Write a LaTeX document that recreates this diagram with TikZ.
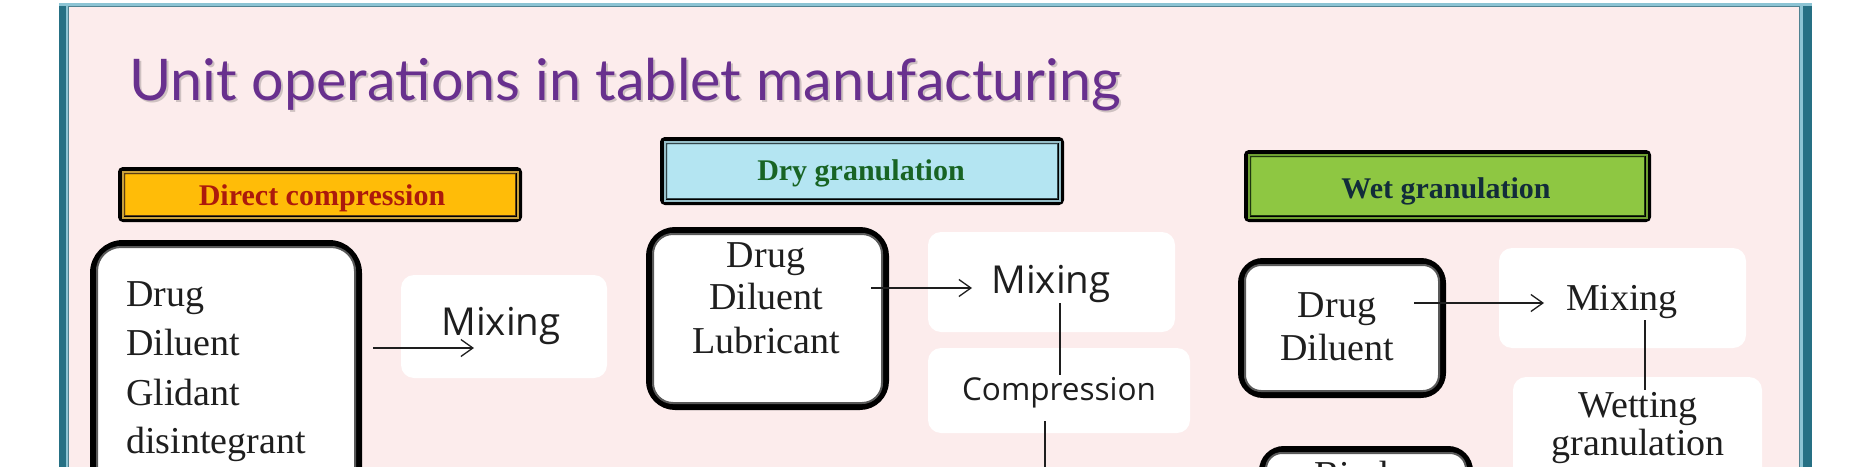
\documentclass[tikz,border=0pt]{standalone}
\usepackage{graphicx}
\usepackage{fontspec}
\setmainfont{Liberation Serif}
\newfontfamily\sansf{Open Sans}
\newfontfamily\titlef{Lato}
\usetikzlibrary{arrows.meta}
\definecolor{bgpink}{RGB}{252,236,236}
\definecolor{tealdark}{RGB}{38,112,132}
\definecolor{teallight}{RGB}{140,196,212}
\definecolor{tealmid}{RGB}{80,130,145}
\definecolor{titlepurple}{RGB}{104,48,142}
\definecolor{dcfill}{RGB}{255,188,8}
\definecolor{dcstripe}{RGB}{200,160,60}
\definecolor{dcline}{RGB}{90,60,20}
\definecolor{dctext}{RGB}{172,26,12}
\definecolor{dgfill}{RGB}{180,229,242}
\definecolor{dgstripe}{RGB}{150,190,200}
\definecolor{dgline}{RGB}{50,70,75}
\definecolor{dgtext}{RGB}{24,100,36}
\definecolor{wgfill}{RGB}{142,199,66}
\definecolor{wgstripe}{RGB}{110,160,50}
\definecolor{wgline}{RGB}{30,55,15}
\definecolor{wgtext}{RGB}{18,44,58}
\definecolor{inkc}{RGB}{30,30,30}
\begin{document}
\begin{tikzpicture}[x=1pt,y=-1pt,
  banner/.style={draw=black, line width=7pt, rounded corners=2pt, inner sep=0pt},
  bantext/.style={font=\bfseries\fontsize{30}{30}\selectfont, inner sep=0pt, anchor=base},
  blackbox/.style={draw=black, line width=6pt, fill=white, inner sep=0pt},
  innerline/.style={draw=black!65, line width=2pt},
  whitebox/.style={fill=white, draw=none, rounded corners=13pt, inner sep=0pt},
  serift/.style={font=\fontsize{38}{38}\selectfont, text=inkc, inner sep=0pt},
  sanst/.style={font=\sansf\fontsize{38.5}{38.5}\selectfont, text=inkc, inner sep=0pt, anchor=base},
  arr/.style={draw=inkc, line width=1.3pt, -{Straight Barb[length=12pt,width=17pt]}},
  conn/.style={draw=inkc, line width=1.3pt}
]
\useasboundingbox (0,0) rectangle (1858,466);
\clip (0,0) rectangle (1858,466);
\fill[white] (0,0) rectangle (1858,466);
% frame
\fill[bgpink] (62,4) rectangle (1810,520);
\fill[tealdark] (59,3) rectangle (66,520);
\fill[teallight] (66,6) rectangle (68,520);
\fill[tealdark] (1803,3) rectangle (1812,520);
\fill[teallight] (1800,6) rectangle (1803,520);
\fill[teallight] (59,3) rectangle (1812,6);
\draw[tealmid, line width=0.8pt] (68.5,6.5) rectangle (1799.5,520);
% title
\node[anchor=base west, inner sep=0pt, text=black, opacity=0.18] (titleshadow) at (131,102)
  {\resizebox{992pt}{!}{\titlef\fontsize{53}{53}\selectfont Unit operations in tablet manufacturing}};
\node[anchor=base west, inner sep=0pt, text=titlepurple] (title) at (129,100)
  {\resizebox{992pt}{!}{\titlef\fontsize{53}{53}\selectfont Unit operations in tablet manufacturing}};
% banners
\node[banner, fill=dcfill, minimum width=397pt, minimum height=48pt] (dcban) at (320,194.5) {};
\draw[dcstripe, line width=2pt] ([xshift=4.5pt,yshift=-4.5pt]dcban.north west) rectangle ([xshift=-4.5pt,yshift=4.5pt]dcban.south east);
\draw[dcline, line width=1.3pt] ([xshift=6.2pt,yshift=-6.2pt]dcban.north west) rectangle ([xshift=-6.2pt,yshift=6.2pt]dcban.south east);
\node[bantext, text=dctext] (dcbant) at (322,205) {Direct compression};
\node[banner, fill=dgfill, minimum width=397pt, minimum height=61pt] (dgban) at (862,171) {};
\draw[dgstripe, line width=2pt] ([xshift=4.5pt,yshift=-4.5pt]dgban.north west) rectangle ([xshift=-4.5pt,yshift=4.5pt]dgban.south east);
\draw[dgline, line width=1.3pt] ([xshift=6.2pt,yshift=-6.2pt]dgban.north west) rectangle ([xshift=-6.2pt,yshift=6.2pt]dgban.south east);
\node[bantext, text=dgtext] (dgbant) at (861,180) {Dry granulation};
\node[banner, fill=wgfill, minimum width=400pt, minimum height=65pt] (wgban) at (1447.5,186) {};
\draw[wgstripe, line width=2pt] ([xshift=4.5pt,yshift=-4.5pt]wgban.north west) rectangle ([xshift=-4.5pt,yshift=4.5pt]wgban.south east);
\draw[wgline, line width=1.3pt] ([xshift=6.2pt,yshift=-6.2pt]wgban.north west) rectangle ([xshift=-6.2pt,yshift=6.2pt]wgban.south east);
\node[bantext, text=wgtext] (wgbant) at (1446,198) {Wet granulation};
% white boxes
\node[whitebox, minimum width=206pt, minimum height=103pt] (dcmix) at (504,326.5) {};
\node[whitebox, minimum width=247pt, minimum height=100pt] (dgmix) at (1051.5,282) {};
\node[whitebox, minimum width=262pt, minimum height=85pt] (dgcomp) at (1059,390.5) {};
\node[whitebox, minimum width=247pt, minimum height=100pt] (wgmix) at (1622.5,298) {};
\node[whitebox, minimum width=249pt, minimum height=163pt] (wgwet) at (1637.5,458.5) {};
% black rounded boxes
\node[blackbox, rounded corners=30pt, minimum width=266pt, minimum height=274pt] (dcbox) at (226,380) {};
\draw[innerline, rounded corners=24pt] ([xshift=7pt,yshift=-7pt]dcbox.north west) rectangle ([xshift=-7pt,yshift=7pt]dcbox.south east);
\node[blackbox, rounded corners=26pt, minimum width=237pt, minimum height=177pt] (dgbox) at (767.5,318.5) {};
\draw[innerline, rounded corners=20pt] ([xshift=7pt,yshift=-7pt]dgbox.north west) rectangle ([xshift=-7pt,yshift=7pt]dgbox.south east);
\node[blackbox, rounded corners=22pt, minimum width=202pt, minimum height=134pt] (wgbox) at (1342,328) {};
\draw[innerline, rounded corners=16pt] ([xshift=7pt,yshift=-7pt]wgbox.north west) rectangle ([xshift=-7pt,yshift=7pt]wgbox.south east);
\node[blackbox, rounded corners=22pt, minimum width=208pt, minimum height=108pt] (bdbox) at (1366,503) {};
\draw[innerline, rounded corners=16pt] ([xshift=7pt,yshift=-7pt]bdbox.north west) rectangle ([xshift=-7pt,yshift=7pt]bdbox.south east);
% texts: direct compression
\node[serift, anchor=base west] (dct1) at (126,306) {Drug};
\node[serift, anchor=base west] (dct2) at (126,355) {Diluent};
\node[serift, anchor=base west] (dct3) at (126,405) {Glidant};
\node[serift, anchor=base west] (dct4) at (126,453) {disintegrant};
\node[sanst] (dcmixt) at (501,335) {Mixing};
% dry granulation
\node[serift, anchor=base] (dgt1) at (766,267) {Drug};
\node[serift, anchor=base] (dgt2) at (766,309) {Diluent};
\node[serift, anchor=base] (dgt3) at (766,353) {Lubricant};
\node[sanst] (dgmixt) at (1051,293) {Mixing};
\node[sanst, font=\sansf\fontsize{31.5}{31.5}\selectfont] (dgcompt) at (1059,400) {Compression};
% wet granulation
\node[serift, anchor=base] (wgt1) at (1337,317) {Drug};
\node[serift, anchor=base] (wgt2) at (1337,360) {Diluent};
\node[serift, anchor=base] (wgmixt) at (1622,310) {Mixing};
\node[serift, anchor=base] (wgwt1) at (1638,417) {Wetting};
\node[serift, anchor=base] (wgwt2) at (1638,455) {granulation};
\node[serift, anchor=base] (bdt) at (1366,487) {Binder};
% connectors
\coordinate (dcA) at (373,348);
\coordinate (dcB) at (474,348);
\draw[arr] (dcA) -- (dcB);
\coordinate (dgA) at (871,288);
\coordinate (dgB) at (972,288);
\draw[arr] (dgA) -- (dgB);
\coordinate (wgA) at (1414,303);
\coordinate (wgB) at (1544,303);
\draw[arr] (wgA) -- (wgB);
\coordinate (dgM) at (1060,303);
\coordinate (dgC) at (1060,375);
\draw[conn] (dgM) -- (dgC);
\coordinate (dgD) at (1045,421);
\coordinate (dgE) at (1045,490);
\draw[conn] (dgD) -- (dgE);
\coordinate (wgM) at (1645,320);
\coordinate (wgW) at (1645,390);
\draw[conn] (wgM) -- (wgW);
\end{tikzpicture}
\end{document}
